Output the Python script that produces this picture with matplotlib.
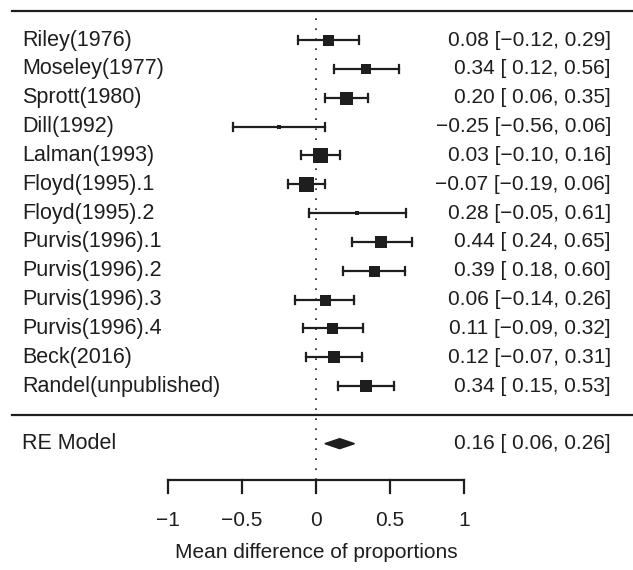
import numpy as np
import matplotlib.pyplot as plt
from matplotlib.patches import Polygon

plt.rcParams['font.family'] = ['Liberation Sans', 'DejaVu Sans']

studies = ['Riley(1976)', 'Moseley(1977)', 'Sprott(1980)', 'Dill(1992)',
           'Lalman(1993)', 'Floyd(1995).1', 'Floyd(1995).2', 'Purvis(1996).1',
           'Purvis(1996).2', 'Purvis(1996).3', 'Purvis(1996).4', 'Beck(2016)',
           'Randel(unpublished)']
est = [0.08, 0.34, 0.20, -0.25, 0.03, -0.07, 0.28, 0.44, 0.39, 0.06, 0.11, 0.12, 0.34]
lo = [-0.12, 0.12, 0.06, -0.56, -0.10, -0.19, -0.05, 0.24, 0.18, -0.14, -0.09, -0.07, 0.15]
hi = [0.29, 0.56, 0.35, 0.06, 0.16, 0.06, 0.61, 0.65, 0.60, 0.26, 0.32, 0.31, 0.53]
# square size in pixels (study weight)
box_px = [11, 9.5, 13, 5, 15, 15, 5, 12, 11, 11, 11, 12, 12]

re_est, re_lo, re_hi = 0.16, 0.06, 0.26
xticks = [-1, -0.5, 0, 0.5, 1]
xticklabels = ['\u22121', '\u22120.5', '0', '0.5', '1']

def fmt(v):
    s = '%.2f' % abs(v)
    return ('\u2212' + s) if v < 0 else s

def ci_text(e, l, h):
    ls = fmt(l) if l < 0 else ' ' + fmt(l)
    return '%s [%s, %s]' % (fmt(e), ls, fmt(h))

W, H = 633, 570
fig = plt.figure(figsize=(W / 100, H / 100), dpi=100)
ax = fig.add_axes([0, 0, 1, 1])
px_per_unit = 148.0
x0_px = 316.0
ax.set_xlim(-x0_px / px_per_unit, (W - x0_px) / px_per_unit)
row_px = 28.83
ax.set_ylim(1 - (H - 386) / row_px, 1 + 386 / row_px)
ax.axis('off')

k = len(studies)
rows = np.arange(k, 0, -1)
fs = 15
fs_lab = 15.5
lab_x = -x0_px / px_per_unit + 22 / px_per_unit
txt_x = (611 - x0_px) / px_per_unit
ink = '#1e1e1e'

# header and separator lines
ax.plot([-x0_px / px_per_unit + 12 / px_per_unit, (W - x0_px) / px_per_unit], [k + 1, k + 1],
        color=ink, lw=1.6)
ax.plot([-x0_px / px_per_unit + 12 / px_per_unit, (W - x0_px) / px_per_unit], [0, 0],
        color=ink, lw=1.6)

# reference line at 0
axis_y = -2.26
ax.plot([0, 0], [axis_y, k + 1], color=ink, lw=1.2, linestyle=(0, (1, 5)))

cap_h = 4 / row_px
for r, name, e, l, h, b in zip(rows, studies, est, lo, hi, box_px):
    ax.plot([l, h], [r, r], color=ink, lw=1.6)
    ax.plot([l, l], [r - cap_h, r + cap_h], color=ink, lw=1.6)
    ax.plot([h, h], [r - cap_h, r + cap_h], color=ink, lw=1.6)
    ax.plot(e, r, marker='s', color=ink, markersize=b * 0.72, markeredgewidth=0)
    ax.text(lab_x, r, name, fontsize=fs_lab, va='center', ha='left', color=ink)
    ax.text(txt_x, r, ci_text(e, l, h), fontsize=fs, va='center', ha='right', color=ink)

# summary diamond
dh = 5 / row_px
diamond = Polygon([[re_lo, -1], [re_est, -1 + dh], [re_hi, -1], [re_est, -1 - dh]],
                  closed=True, facecolor=ink, edgecolor=ink)
ax.add_patch(diamond)
ax.text(lab_x, -1, 'RE Model', fontsize=fs_lab, va='center', ha='left', color=ink)
ax.text(txt_x, -1, ci_text(re_est, re_lo, re_hi), fontsize=fs, va='center', ha='right', color=ink)

# x axis
tick_len = 13 / row_px
ax.plot([xticks[0], xticks[-1]], [axis_y, axis_y], color=ink, lw=1.6)
for t, tl in zip(xticks, xticklabels):
    ax.plot([t, t], [axis_y, axis_y - tick_len], color=ink, lw=1.6)
    ax.text(t, 1 - (520 - 386) / row_px, tl, fontsize=fs, ha='center', va='center', color=ink)
ax.text(0, 1 - (553 - 386) / row_px, 'Mean difference of proportions', fontsize=fs,
        ha='center', va='center', color=ink)

fig.savefig('out.png', dpi=100)
